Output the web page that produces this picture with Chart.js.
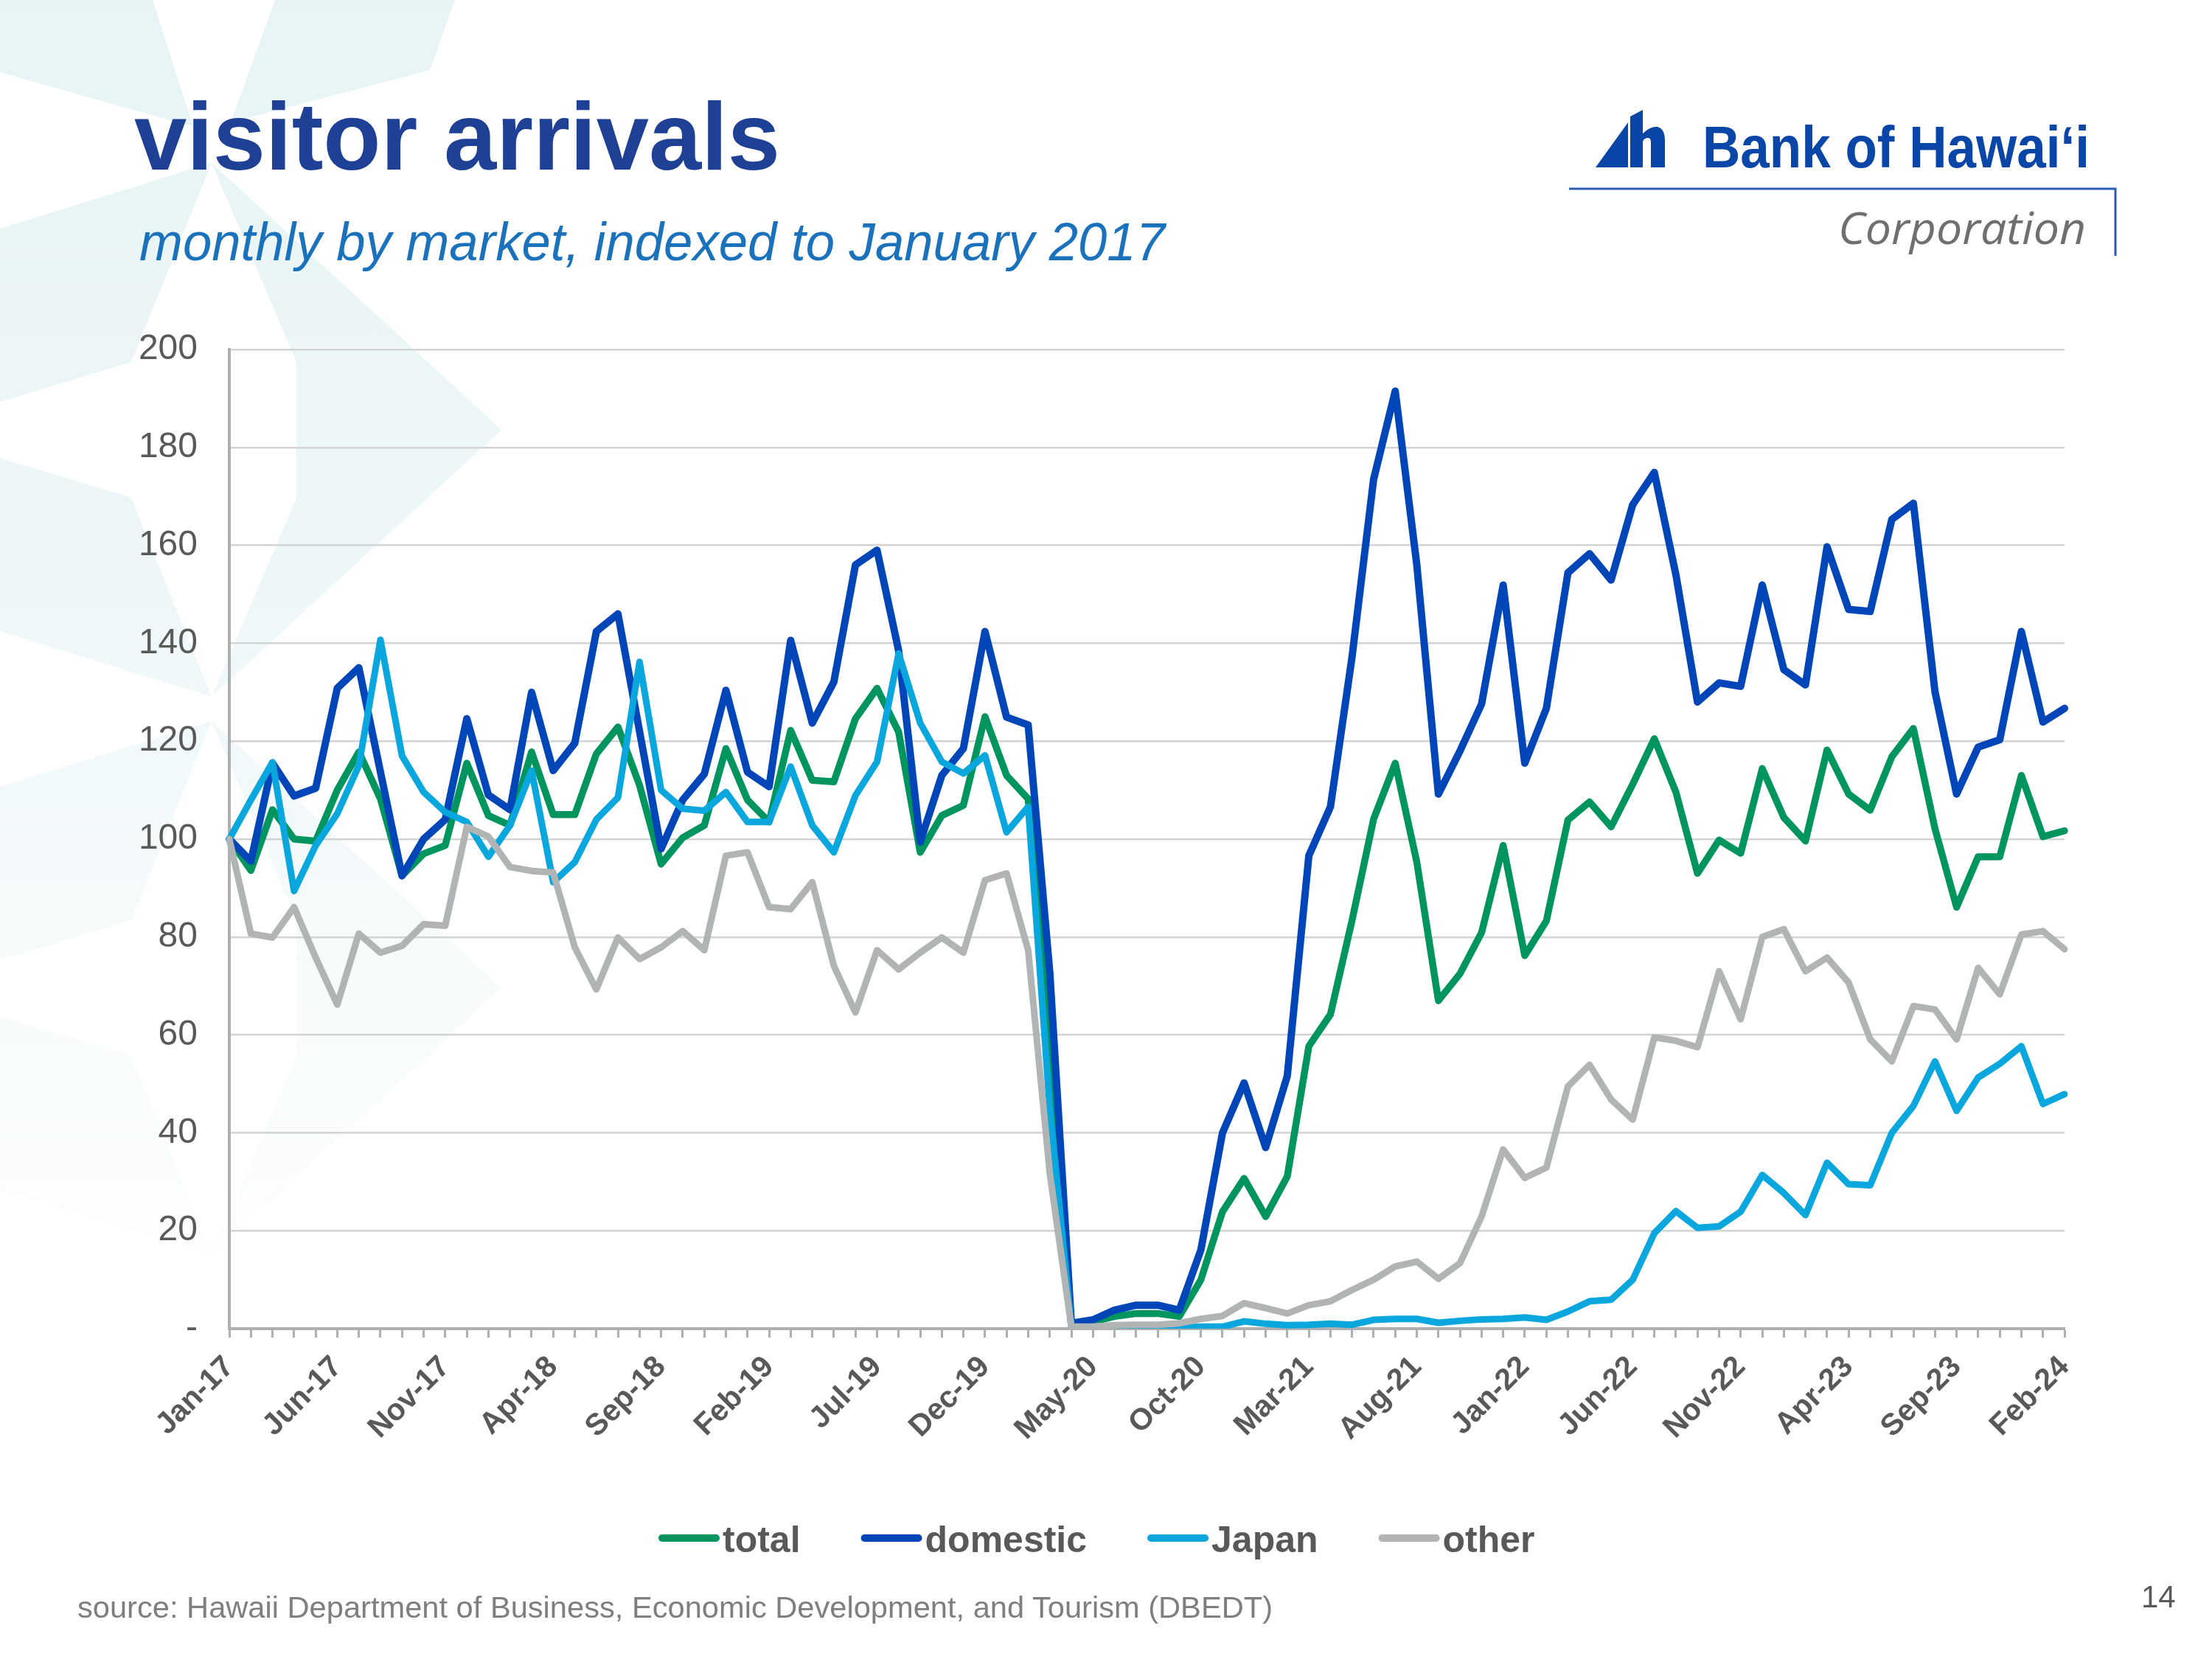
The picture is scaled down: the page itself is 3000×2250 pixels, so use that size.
<!DOCTYPE html>
<html><head><meta charset="utf-8">
<script src="https://cdn.jsdelivr.net/npm/chart.js@4.4.1/dist/chart.umd.min.js"></script>
<style>
html,body{margin:0;padding:0;background:#fff;}
body{width:3000px;height:2250px;position:relative;overflow:hidden;font-family:"Liberation Sans",Arial,sans-serif;}
#bg,#fg{position:absolute;left:0;top:0;width:3000px;height:2250px;}
#fg{pointer-events:none;}
#wrap{position:absolute;left:0;top:440px;width:2900px;height:1560px;}
</style></head><body>
<svg id="bg" width="3000" height="2250" xmlns="http://www.w3.org/2000/svg">
  <defs>
    <linearGradient id="fade" gradientUnits="userSpaceOnUse" x1="0" y1="0" x2="0" y2="1750">
      <stop offset="0" stop-color="#e7f3f5"/>
      <stop offset="0.45" stop-color="#eef7f8"/>
      <stop offset="1" stop-color="#fdfefe"/>
    </linearGradient>
  </defs>
  <g id="decor" fill="url(#fade)"></g>
</svg>
<div id="wrap"><canvas id="c" width="2900" height="1560" style="width:2900px;height:1560px"></canvas></div>
<svg id="fg" width="3000" height="2250" xmlns="http://www.w3.org/2000/svg">
  <text x="182" y="230" font-family="Liberation Sans" font-weight="bold" font-size="130" fill="#1e4196" textLength="876" lengthAdjust="spacingAndGlyphs">visitor arrivals</text>
  <text x="189" y="353" font-family="Liberation Sans" font-style="italic" font-size="72" fill="#1b72bc" textLength="1391" lengthAdjust="spacingAndGlyphs">monthly by market, indexed to January 2017</text>
  <g fill="#0a46a8">
    <polygon points="2164,227 2208,166 2208,227"/>
    <path d="M2211,227 L2211,158 L2228,149 L2228,181 Q2238,171 2248,172 Q2258,175 2258,190 L2258,227 L2239,227 L2239,193 Q2239,186 2234,187 Q2229,188 2228,192 L2228,227 Z"/>
    <text x="2309" y="227" font-family="Liberation Sans" font-weight="bold" font-size="80" textLength="525" lengthAdjust="spacingAndGlyphs">Bank of Hawai‘i</text>
  </g>
  <polyline points="2128,256 2869,256 2869,347" fill="none" stroke="#2b5cb5" stroke-width="3"/>
  <text x="2493" y="331" font-family="Open Sans" font-style="italic" font-size="60" fill="#6e6f71" textLength="336" lengthAdjust="spacingAndGlyphs">Corporation</text>
  <g id="legend"></g>
  <text x="105" y="2194" font-family="Liberation Sans" font-size="40" fill="#7f7f7f" textLength="1621" lengthAdjust="spacingAndGlyphs">source: Hawaii Department of Business, Economic Development, and Tourism (DBEDT)</text>
  <text x="2904" y="2180" font-family="Liberation Sans" font-size="42" fill="#595959">14</text>
</svg>
<script>
// ---------- data ----------
const categories = [
 'Jan-17','Feb-17','Mar-17','Apr-17','May-17','Jun-17','Jul-17','Aug-17','Sep-17','Oct-17','Nov-17','Dec-17',
 'Jan-18','Feb-18','Mar-18','Apr-18','May-18','Jun-18','Jul-18','Aug-18','Sep-18','Oct-18','Nov-18','Dec-18',
 'Jan-19','Feb-19','Mar-19','Apr-19','May-19','Jun-19','Jul-19','Aug-19','Sep-19','Oct-19','Nov-19','Dec-19',
 'Jan-20','Feb-20','Mar-20','Apr-20','May-20','Jun-20','Jul-20','Aug-20','Sep-20','Oct-20','Nov-20','Dec-20',
 'Jan-21','Feb-21','Mar-21','Apr-21','May-21','Jun-21','Jul-21','Aug-21','Sep-21','Oct-21','Nov-21','Dec-21',
 'Jan-22','Feb-22','Mar-22','Apr-22','May-22','Jun-22','Jul-22','Aug-22','Sep-22','Oct-22','Nov-22','Dec-22',
 'Jan-23','Feb-23','Mar-23','Apr-23','May-23','Jun-23','Jul-23','Aug-23','Sep-23','Oct-23','Nov-23','Dec-23',
 'Jan-24','Feb-24'];
const tickLabels = ['Jan-17','Jun-17','Nov-17','Apr-18','Sep-18','Feb-19','Jul-19','Dec-19','May-20',
 'Oct-20','Mar-21','Aug-21','Jan-22','Jun-22','Nov-22','Apr-23','Sep-23','Feb-24'];
const yTicks = [0,20,40,60,80,100,120,140,160,180,200];

const total = [
 100,93.6,106,100,99.6,110,117.8,108.2,92.5,97,98.7,115.5,
 104.8,102.8,117.8,105,105,117.4,122.9,111,94.9,100.3,102.8,118.5,
 108,103.5,122.2,112,111.7,124.6,130.8,121.9,97.3,104.8,106.9,125,
 113,108.2,58,0.8,1.4,2.5,3.1,3.1,2.5,10,23.9,30.7,
 22.9,31.1,57.7,64.2,83.4,104.1,115.5,95.3,67,72.5,80.9,98.7,
 76.2,83.3,103.9,107.6,102.5,111.2,120.5,109.6,93,99.8,97.1,114.4,
 104.4,99.6,118.2,109.2,105.9,116.8,122.6,102.1,86.1,96.4,96.4,113,
 100.5,101.7];
const domestic = [
 100,95.5,115.5,108.8,110.4,130.8,135,113.7,92.5,100,104,124.6,
 109,106,130,114,119.6,142.4,146,122,98,108,113.3,130.4,
 113.7,110.7,140.6,123.7,132.1,156,159,138.5,99.4,113,118.5,142.4,
 124.9,123.3,72.8,1.1,1.8,3.8,4.8,4.8,3.8,16.1,40,50.2,
 37,51.6,96.6,106.6,137.2,173.5,191.5,156,109.2,118,127.6,151.9,
 115.5,126.7,154.4,158.3,152.9,168.3,174.9,154,128,131.9,131.2,151.9,
 134.6,131.5,159.7,146.9,146.5,165.3,168.6,130.1,109.2,118.8,120.3,142.4,
 123.9,126.7];
const japan = [
 100,108,115.7,89.4,98.7,105.2,115,140.7,117,109.6,105.5,103.5,
 96.4,102.8,114,91.2,95.3,104,108.5,136.2,110,106.2,105.8,109.6,
 103.5,103.5,114.8,102.8,97.3,108.9,115.8,137.9,123.7,115.8,113.4,117.1,
 101.4,106.6,45,0.4,0.1,0.2,0.2,0.2,0.2,0.4,0.4,1.5,
 1,0.7,0.8,1,0.8,1.8,2,2,1.2,1.6,1.9,2,
 2.3,1.8,3.5,5.6,5.9,10,19.5,24,20.6,20.9,23.9,31.4,
 27.7,23.2,33.9,29.5,29.3,40,45.5,54.6,44.5,51.3,54.1,57.7,
 45.9,47.9];
const other = [
 100,80.7,79.9,86.1,75.8,66.2,80.7,76.8,78.2,82.6,82.3,102.5,
 100.5,94.3,93.5,93.2,77.9,69.3,79.9,75.5,77.9,81.2,77.3,96.6,
 97.3,86.1,85.7,91.2,74.1,64.6,77.3,73.4,76.8,79.9,76.8,91.6,
 93,77.3,31.8,0.4,0.4,0.7,0.8,0.8,1.1,2,2.6,5.2,
 4.2,3.1,4.8,5.6,7.9,10,12.7,13.7,10.2,13.4,22.9,36.6,
 30.8,32.9,49.5,53.9,46.8,42.7,59.5,58.8,57.5,73,63.2,80,
 81.6,73,75.8,70.7,59.1,54.6,65.9,65.2,59.1,73.7,68.3,80.5,
 81.2,77.5];

const seriesNames = ['total','domestic','Japan','other'];
const seriesData = [total, domestic, japan, other];
const seriesColors = ['#00955f','#0046b8','#0aa6de','#b1b4b4'];
const seriesWidths = [9.5,10,9,9];
const seriesOrder = [4,3,2,1];

// ---------- background decoration ----------
const svgNS = 'http://www.w3.org/2000/svg';
const decor = document.getElementById('decor');
const decorShapes = [
 [[0,0],[207,0],[262,172],[0,98]],
 [[373,0],[617,0],[583,95],[313,166]]
];
const starParts = [
 [[0,-273],[287,-362],[178,-92],[0,-38]],
 [[287,-362],[680,0],[402,94],[402,-92]],
 [[0,273],[287,362],[178,92],[0,38]],
 [[287,362],[680,0],[402,-94],[402,92]]
];
[583,1340].forEach(cy=>{
  starParts.forEach(p=>decorShapes.push(p.map(([x,y])=>[x,y+cy])));
});
decorShapes.forEach(p=>{
  const el=document.createElementNS(svgNS,'polygon');
  el.setAttribute('points',p.map(q=>q.join(',')).join(' '));
  decor.appendChild(el);
});

// ---------- legend ----------
const legend = document.getElementById('legend');
let lx = 893;
seriesNames.forEach((name,k)=>{
  const ln=document.createElementNS(svgNS,'line');
  ln.setAttribute('x1',lx+5); ln.setAttribute('x2',lx+78);
  ln.setAttribute('y1',2086); ln.setAttribute('y2',2086);
  ln.setAttribute('stroke',seriesColors[k]); ln.setAttribute('stroke-width',10);
  ln.setAttribute('stroke-linecap','round');
  legend.appendChild(ln);
  const t=document.createElementNS(svgNS,'text');
  t.setAttribute('x',lx+87); t.setAttribute('y',2105);
  t.setAttribute('font-family','Liberation Sans'); t.setAttribute('font-weight','bold');
  t.setAttribute('font-size',50); t.setAttribute('fill','#595959');
  t.textContent=name;
  legend.appendChild(t);
  lx = lx + 87 + t.getComputedTextLength() + 82;
});

// ---------- chart ----------
const axisColor = '#aeb0b0';
new Chart(document.getElementById('c'), {
  type:'line',
  data:{
    labels:categories,
    datasets:seriesNames.map((n,k)=>({
      label:n, data:seriesData[k], borderColor:seriesColors[k], backgroundColor:seriesColors[k],
      borderWidth:seriesWidths[k], order:seriesOrder[k], pointRadius:0, tension:0,
      borderJoinStyle:'round', borderCapStyle:'round', fill:false
    }))
  },
  options:{
    responsive:false, animation:false, devicePixelRatio:1,
    layout:{padding:{left:0,right:100,top:34,bottom:0}},
    plugins:{legend:{display:false}, tooltip:{enabled:false}, title:{display:false}},
    scales:{
      x:{
        grid:{display:true, drawOnChartArea:false, drawTicks:true, tickLength:12, tickColor:axisColor, tickWidth:3},
        border:{display:true, color:axisColor, width:4},
        ticks:{autoSkip:false, minRotation:45, maxRotation:45, padding:16, color:'#595959',
          font:{family:'Liberation Sans', size:41, weight:'bold'},
          callback:(v,i)=> tickLabels.includes(categories[i]) ? categories[i] : ''},
        afterFit:s=>{ s.height=198; s.paddingLeft=0; s.paddingRight=0; }
      },
      y:{
        min:yTicks[0], max:yTicks[yTicks.length-1],
        afterBuildTicks:s=>{ s.ticks = yTicks.map(v=>({value:v})); },
        grid:{color:'#d3d3d3', lineWidth:2.5, drawTicks:false},
        border:{display:true, color:axisColor, width:4},
        ticks:{padding:43, color:'#595959', font:{family:'Liberation Sans', size:48},
          callback:v=> v===0 ? '-' : String(v)},
        afterFit:s=>{ s.width=311; s.paddingTop=0; s.paddingBottom=0; }
      }
    }
  }
});
</script>
</body></html>
